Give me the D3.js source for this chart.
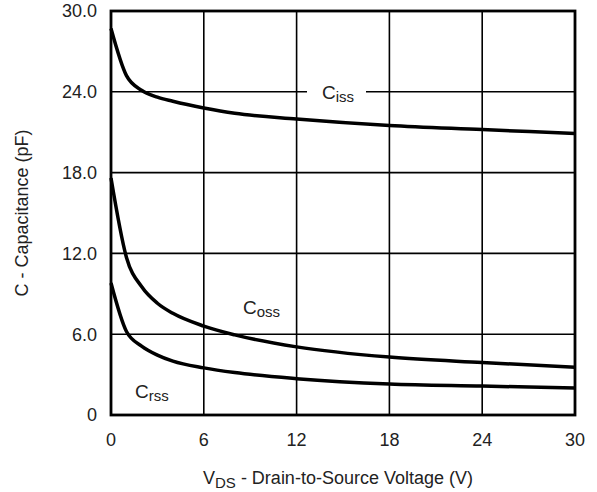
<!DOCTYPE html>
<html>
<head>
<meta charset="utf-8">
<script src="https://cdn.jsdelivr.net/npm/d3@7"></script>
<style>
  body { margin: 0; background: #fff; }
  text { font-family: "Liberation Sans", Arial, sans-serif; fill: #222; }
</style>
</head>
<body>
<div id="chart"></div>
<script>
let vds = [0, 1, 2, 3, 4, 6, 8, 12, 18, 24, 30];
let ciss = [28.7, 25.2, 24.1, 23.6, 23.3, 22.8, 22.4, 21.98, 21.5, 21.2, 20.9];
let coss = [17.6, 11.7, 9.5, 8.3, 7.55, 6.6, 5.95, 5.06, 4.3, 3.9, 3.55];
let crss = [9.8, 6.2, 5.1, 4.45, 4.0, 3.5, 3.15, 2.7, 2.3, 2.15, 2.0];
let xticks = [0, 6, 12, 18, 24, 30];
let yticks = [0, 6, 12, 18, 24, 30];
let ytick_labels = ["0", "6.0", "12.0", "18.0", "24.0", "30.0"];

let width = 597, height = 492;
let margin = {left: 111, top: 11, right: 22, bottom: 77};

let svg = d3.select("#chart").append("svg")
  .attr("width", width)
  .attr("height", height);

let x = d3.scaleLinear().domain([0, 30]).range([margin.left, width - margin.right]);
let y = d3.scaleLinear().domain([0, 30]).range([height - margin.bottom, margin.top]);

// grid
let grid = svg.append("g").attr("stroke", "#000").attr("stroke-width", 1.6);
grid.selectAll(".vx").data(xticks.slice(1, -1)).join("line")
  .attr("x1", d => x(d)).attr("x2", d => x(d))
  .attr("y1", y(0)).attr("y2", y(30));
grid.selectAll(".hy").data(yticks.slice(1, -1)).join("line")
  .attr("x1", x(0)).attr("x2", x(30))
  .attr("y1", d => y(d)).attr("y2", d => y(d));

// curves
let line = d3.line().x((d, i) => x(vds[i])).y(d => y(d)).curve(d3.curveMonotoneX);
[ciss, coss, crss].forEach(function(s){
  svg.append("path")
    .attr("d", line(s))
    .attr("fill", "none")
    .attr("stroke", "#000")
    .attr("stroke-width", 3.5)
    .attr("stroke-linejoin", "round");
});

// frame
svg.append("rect")
  .attr("x", x(0)).attr("y", y(30))
  .attr("width", x(30) - x(0)).attr("height", y(0) - y(30))
  .attr("fill", "none").attr("stroke", "#000").attr("stroke-width", 2.8);

// tick labels
svg.append("g").selectAll("text").data(xticks).join("text")
  .attr("x", d => x(d)).attr("y", 446)
  .attr("text-anchor", "middle")
  .style("font-size", "18px")
  .text(d => d);
svg.append("g").selectAll("text").data(yticks).join("text")
  .attr("x", 97).attr("y", d => y(d))
  .attr("dy", "0.36em")
  .attr("text-anchor", "end")
  .style("font-size", "18px")
  .text((d, i) => ytick_labels[i]);

// axis titles
let xt = svg.append("text")
  .attr("x", 338).attr("y", 484)
  .attr("text-anchor", "middle")
  .style("font-size", "18px");
xt.append("tspan").text("V");
xt.append("tspan").attr("dy", 4).style("font-size", "15px").text("DS");
xt.append("tspan").attr("dy", -4).text(" - Drain-to-Source Voltage (V)");

svg.append("text")
  .attr("transform", "translate(28," + ((y(0) + y(30)) / 2) + ") rotate(-90)")
  .attr("text-anchor", "middle")
  .style("font-size", "18px")
  .text("C - Capacitance (pF)");

// series labels
function series_label(px, py, sub, gap){
  if(gap){
    svg.append("rect").attr("x", px - 15).attr("y", py - 20)
      .attr("width", 59).attr("height", 28).attr("fill", "#fff");
  }
  let t = svg.append("text").attr("x", px).attr("y", py).style("font-size", "19px");
  t.append("tspan").text("C");
  t.append("tspan").attr("dy", 3).style("font-size", "15px").text(sub);
}
series_label(322, 99, "iss", true);
series_label(243, 314, "oss", false);
series_label(135, 398, "rss", false);
</script>
</body>
</html>
